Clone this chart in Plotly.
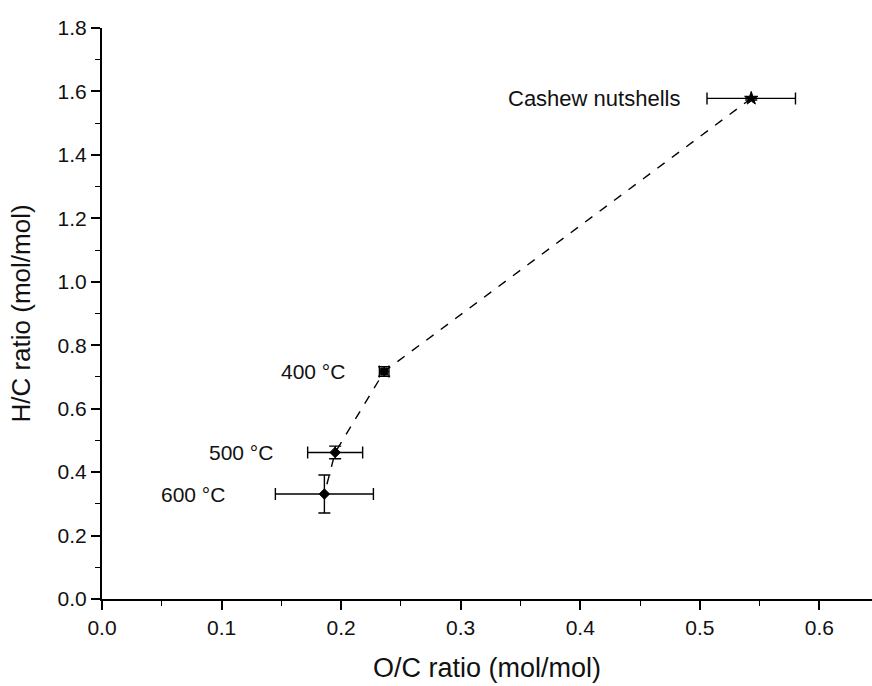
import plotly.graph_objects as go

labels = ["Cashew nutshells", "400 °C", "500 °C", "600 °C"]
oc = [0.543, 0.236, 0.195, 0.186]
hc = [1.578, 0.717, 0.462, 0.331]
oc_err = [0.037, 0.004, 0.023, 0.041]
hc_err = [0.005, 0.015, 0.02, 0.06]
symbols = ["star", "square", "diamond", "diamond"]
msizes = [10, 7, 8, 8]
label_shift = [-69, -37, -60, -97]

FONT = "Liberation Sans, Arial"

fig = go.Figure()

fig.add_trace(go.Scatter(
    x=oc, y=hc, mode="lines",
    line=dict(color="black", width=1.4, dash="dash"),
    hoverinfo="skip", showlegend=False,
))

for i in range(len(labels)):
    fig.add_trace(go.Scatter(
        x=[oc[i]], y=[hc[i]], mode="markers",
        marker=dict(symbol=symbols[i], size=msizes[i], color="black",
                    line=dict(color="black", width=1)),
        error_x=dict(type="data", array=[oc_err[i]], color="black",
                     thickness=1.4, width=6),
        error_y=dict(type="data", array=[hc_err[i]], color="black",
                     thickness=1.4, width=6),
        cliponaxis=False, showlegend=False, name=labels[i],
    ))
    fig.add_annotation(
        x=oc[i], y=hc[i], text=labels[i], showarrow=False,
        xanchor="right", yanchor="middle", xshift=label_shift[i],
        font=dict(family=FONT, size=22 if i == 0 else 21, color="#111111"),
    )

axis_common = dict(
    showgrid=False, zeroline=False, showline=True, linecolor="black",
    linewidth=2, ticks="outside", ticklen=9, tickwidth=1.6,
    tickcolor="black", tickfont=dict(family=FONT, size=21, color="#111111"),
    tickformat=".1f", automargin=False,
)

fig.update_xaxes(
    range=[0, 0.644], dtick=0.1, tick0=0,
    minor=dict(dtick=0.05, ticks="outside", ticklen=5, tickwidth=1.4,
               tickcolor="black"),
    title=dict(text="O/C ratio (mol/mol)", standoff=20,
               font=dict(family=FONT, size=27, color="#111111")),
    **axis_common,
)
fig.update_yaxes(
    range=[0, 1.8], dtick=0.2, tick0=0,
    minor=dict(dtick=0.1, ticks="outside", ticklen=5, tickwidth=1.4,
               tickcolor="black"),
    title=dict(text="H/C ratio (mol/mol)", standoff=19,
               font=dict(family=FONT, size=26, color="#111111")),
    **axis_common,
)

fig.update_layout(
    width=872, height=686,
    margin=dict(l=102, r=0, t=28, b=87),
    plot_bgcolor="white", paper_bgcolor="white",
)

fig.write_html(
    "out.html",
    config={"responsive": False, "displayModeBar": False},
    post_script="document.body.style.margin='0';"
                "document.body.style.overflow='hidden';",
)
